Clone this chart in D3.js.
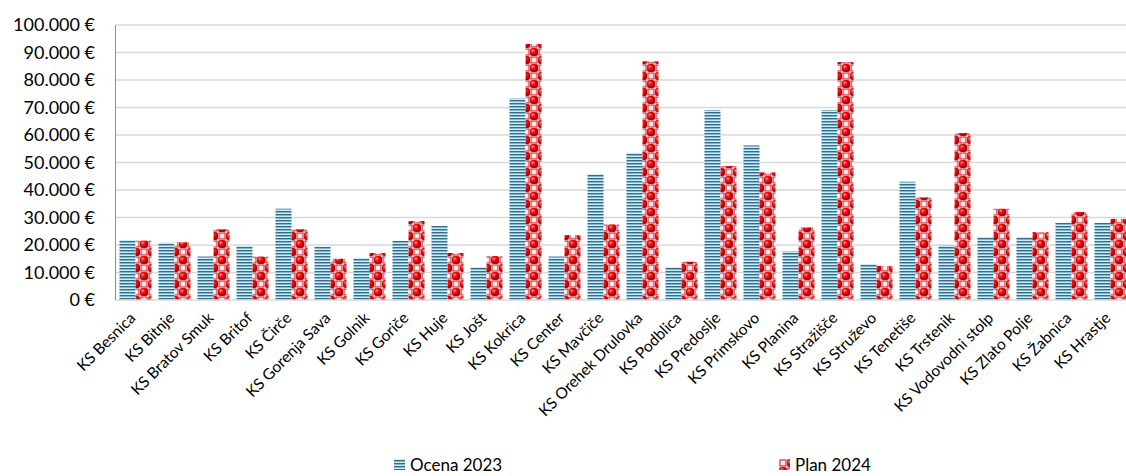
<!DOCTYPE html>
<html>
<head>
<meta charset="utf-8">
<script src="https://cdn.jsdelivr.net/npm/d3@7"></script>
<style>
  body { margin: 0; background: #fff; }
  text { font-family: Lato, "Open Sans", sans-serif; fill: #000; }
</style>
</head>
<body>
<svg id="chart" width="1126" height="476"></svg>
<script>
// categories and series
var categories = ["KS Besnica", "KS Bitnje", "KS Bratov Smuk", "KS Britof", "KS Čirče",
    "KS Gorenja Sava", "KS Golnik", "KS Goriče", "KS Huje", "KS Jošt", "KS Kokrica",
    "KS Center", "KS Mavčiče", "KS Orehek Drulovka", "KS Podblica", "KS Predoslje",
    "KS Primskovo", "KS Planina", "KS Stražišče", "KS Struževo", "KS Tenetiše",
    "KS Trstenik", "KS Vodovodni stolp", "KS Zlato Polje", "KS Žabnica", "KS Hrastje"];
var ocena2023 = [21800, 20800, 15800, 19600, 33200, 19300, 15300, 21500, 26900, 12000, 73300,
    15800, 45800, 53500, 12000, 69100, 56200, 17700, 69100, 13100, 43000,
    19800, 22900, 22900, 28100, 28100];
var plan2024 = [21600, 21000, 25700, 15800, 25700, 15000, 17100, 28700, 17100, 16000, 93100,
    23600, 27500, 86800, 13900, 48700, 46400, 26400, 86500, 12400, 37300,
    60700, 33200, 24700, 32000, 29500];
var series = ["Ocena 2023", "Plan 2024"];
var yTicks = d3.range(0, 100001, 10000);

var svg = d3.select("#chart");
var mLeft = 116, mTop = 25, plotH = 275, step = 39;
var plotW = step * categories.length;

var defs = svg.append("defs");

// horizontal blue stripes
var stripe = defs.append("pattern").attr("id", "stripe")
    .attr("patternUnits", "userSpaceOnUse").attr("width", 8).attr("height", 3);
stripe.append("rect").attr("width", 8).attr("height", 3).attr("fill", "#c8eef6");
stripe.append("rect").attr("y", 1).attr("width", 8).attr("height", 1.3).attr("fill", "#356c90");
stripe.append("rect").attr("y", 2.3).attr("width", 8).attr("height", 0.7).attr("fill", "#78adc4");

// red checker with balls
var ball = defs.append("radialGradient").attr("id", "ball")
    .attr("cx", "35%").attr("cy", "35%").attr("r", "70%");
ball.append("stop").attr("offset", "0%").attr("stop-color", "#ff9a9a");
ball.append("stop").attr("offset", "35%").attr("stop-color", "#f01010");
ball.append("stop").attr("offset", "100%").attr("stop-color", "#a00000");

var check = defs.append("pattern").attr("id", "check")
    .attr("patternUnits", "userSpaceOnUse").attr("width", 16).attr("height", 16);
check.append("rect").attr("width", 16).attr("height", 16).attr("fill", "#fde4ea");
[[0, 0], [8, 8]].forEach(function(c) {
    check.append("rect").attr("x", c[0] + 1).attr("y", c[1] + 1).attr("width", 6).attr("height", 6)
        .attr("fill", "#fbd0d4").attr("stroke", "#c84850").attr("stroke-width", 1.2);
    check.append("rect").attr("x", c[0] + 2.5).attr("y", c[1] + 2.5).attr("width", 3).attr("height", 3)
        .attr("fill", "#fff2f4");
});
[[8, 0], [0, 8]].forEach(function(c) {
    check.append("rect").attr("x", c[0]).attr("y", c[1]).attr("width", 8).attr("height", 8)
        .attr("fill", "url(#ball)").attr("rx", 2.5);
});

var x = d3.scaleBand().domain(categories).range([mLeft, mLeft + plotW]).paddingInner(0).paddingOuter(0);
var xs = d3.scaleBand().domain(series).range([3.5, step - 3.5]);
var y = d3.scaleLinear().domain([0, 100000]).range([mTop + plotH, mTop]);

// gridlines
svg.append("g").selectAll("line").data(yTicks.slice(1)).join("line")
    .attr("x1", mLeft).attr("x2", mLeft + plotW)
    .attr("y1", function(d) { return y(d); }).attr("y2", function(d) { return y(d); })
    .attr("stroke", "#d9d9d9").attr("stroke-width", 1.5);

// y labels
var fmt = function(d) { return d3.format(",")(d).replace(/,/g, ".") + " €"; };
svg.append("g").selectAll("text").data(yTicks).join("text")
    .attr("x", 95).attr("y", function(d) { return y(d); }).attr("dy", "0.35em")
    .attr("text-anchor", "end").style("font-size", "18px").text(fmt);

// bars
var groups = svg.append("g").selectAll("g").data(categories).join("g")
    .attr("transform", function(d) { return "translate(" + x(d) + ",0)"; });
groups.append("rect")
    .attr("x", xs("Ocena 2023")).attr("width", xs.bandwidth())
    .attr("y", function(d, i) { return y(ocena2023[i]); })
    .attr("height", function(d, i) { return y(0) - y(ocena2023[i]); })
    .attr("fill", "url(#stripe)");
groups.append("rect")
    .attr("x", xs("Plan 2024")).attr("width", xs.bandwidth())
    .attr("y", function(d, i) { return y(plan2024[i]); })
    .attr("height", function(d, i) { return y(0) - y(plan2024[i]); })
    .attr("fill", "url(#check)");

// axes lines
svg.append("line").attr("x1", mLeft).attr("x2", mLeft + plotW)
    .attr("y1", y(0)).attr("y2", y(0)).attr("stroke", "#d9d9d9").attr("stroke-width", 1.5);
svg.append("line").attr("x1", mLeft - 0.5).attr("x2", mLeft - 0.5)
    .attr("y1", mTop).attr("y2", y(0)).attr("stroke", "#5b9bd5").attr("stroke-width", 1);

// x labels
svg.append("g").selectAll("text").data(categories).join("text")
    .attr("transform", function(d) {
        return "translate(" + (x(d) + step / 2 + 1) + ",319) rotate(-45)";
    })
    .attr("text-anchor", "end").style("font-size", "15.5px").text(function(d) { return d; });

// legend
var legend = [{ name: "Ocena 2023", fill: "url(#stripe)", x: 394 },
    { name: "Plan 2024", fill: "url(#check)", x: 779 }];
var lg = svg.append("g").selectAll("g").data(legend).join("g")
    .attr("transform", function(d) { return "translate(" + d.x + ",459)"; });
lg.append("rect").attr("width", 11).attr("height", 11).attr("fill", function(d) { return d.fill; });
lg.append("text").attr("x", 16).attr("y", 6).attr("dy", "0.38em")
    .style("font-size", "17px").text(function(d) { return d.name; });
</script>
</body>
</html>
